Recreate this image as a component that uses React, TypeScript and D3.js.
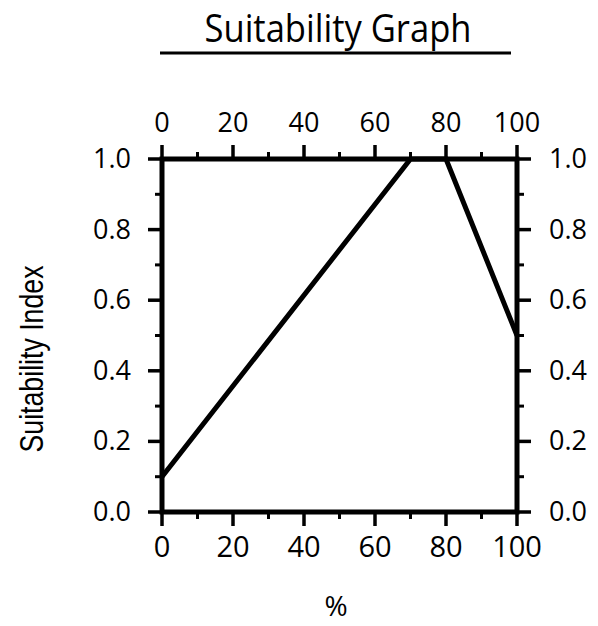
import React from "react";
import * as d3 from "d3";

const xMajor = [0, 20, 40, 60, 80, 100];
const xMinor = [10, 30, 50, 70, 90];
const yMajor = [0, 0.2, 0.4, 0.6, 0.8, 1.0];
const yMinor = [0.1, 0.3, 0.5, 0.7, 0.9];
const xLabels = ["0", "20", "40", "60", "80", "100"];
const yLabels = ["0.0", "0.2", "0.4", "0.6", "0.8", "1.0"];
const pctValues = [0, 70, 80, 100];
const suitValues = [0.1, 1.0, 1.0, 0.5];

export default function App() {
  const W = 598, H = 626;
  const L = 162, R = 517, T = 159, B = 512;
  const x = d3.scaleLinear().domain([0, 100]).range([L, R]);
  const y = d3.scaleLinear().domain([0, 1]).range([B, T]);
  const pts: [number, number][] = pctValues.map((p, i) => [p, suitValues[i]]);
  const line = d3.line<[number, number]>().x(d => x(d[0])).y(d => y(d[1]));
  const font = "'Open Sans', 'DejaVu Sans', sans-serif";
  const majLen = 14, minLen = 7;
  const fs = 27;
  return (
    <svg width={W} height={H} style={{ position: "absolute", left: 0, top: 0, background: "#fff" }}>
      <rect width={W} height={H} fill="#fff" />
      <text x={338} y={42} textAnchor="middle" fontFamily={font} fontSize={38} textLength={267} lengthAdjust="spacingAndGlyphs" fill="#000">Suitability Graph</text>
      <line x1={160} x2={511} y1={53} y2={53} stroke="#000" strokeWidth={3} />
      {/* frame */}
      <rect x={L} y={T} width={R - L} height={B - T} fill="none" stroke="#000" strokeWidth={5} />
      {/* x ticks */}
      {xMajor.map((v, i) => (
        <g key={"xm" + i}>
          <line x1={x(v)} x2={x(v)} y1={B} y2={B + majLen} stroke="#000" strokeWidth={3.5} />
          <line x1={x(v)} x2={x(v)} y1={T} y2={T - majLen} stroke="#000" strokeWidth={3.5} />
          <text x={x(v)} y={557} textAnchor="middle" fontFamily={font} fontSize={fs + 2}>{xLabels[i]}</text>
          <text x={x(v)} y={132} textAnchor="middle" fontFamily={font} fontSize={fs}>{xLabels[i]}</text>
        </g>
      ))}
      {xMinor.map((v, i) => (
        <g key={"xn" + i}>
          <line x1={x(v)} x2={x(v)} y1={B} y2={B + minLen} stroke="#000" strokeWidth={3} />
          <line x1={x(v)} x2={x(v)} y1={T} y2={T - minLen} stroke="#000" strokeWidth={3} />
        </g>
      ))}
      {yMajor.map((v, i) => (
        <g key={"ym" + i}>
          <line x1={L} x2={L - majLen} y1={y(v)} y2={y(v)} stroke="#000" strokeWidth={3.5} />
          <line x1={R} x2={R + majLen} y1={y(v)} y2={y(v)} stroke="#000" strokeWidth={3.5} />
          <text x={131} y={y(v) + 9} textAnchor="end" fontFamily={font} fontSize={fs}>{yLabels[i]}</text>
          <text x={549} y={y(v) + 9} textAnchor="start" fontFamily={font} fontSize={fs}>{yLabels[i]}</text>
        </g>
      ))}
      {yMinor.map((v, i) => (
        <g key={"yn" + i}>
          <line x1={L} x2={L - minLen} y1={y(v)} y2={y(v)} stroke="#000" strokeWidth={3} />
          <line x1={R} x2={R + minLen} y1={y(v)} y2={y(v)} stroke="#000" strokeWidth={3} />
        </g>
      ))}
      <path d={line(pts) || ""} fill="none" stroke="#000" strokeWidth={5} strokeLinejoin="miter" />
      <text transform="translate(43,359) rotate(-90)" textAnchor="middle" fontFamily="'Liberation Sans', Arial, sans-serif" fontSize={34} textLength={187} lengthAdjust="spacingAndGlyphs">Suitability Index</text>
      <text x={336} y={616} textAnchor="middle" fontFamily={font} fontSize={28}>%</text>
    </svg>
  );
}
